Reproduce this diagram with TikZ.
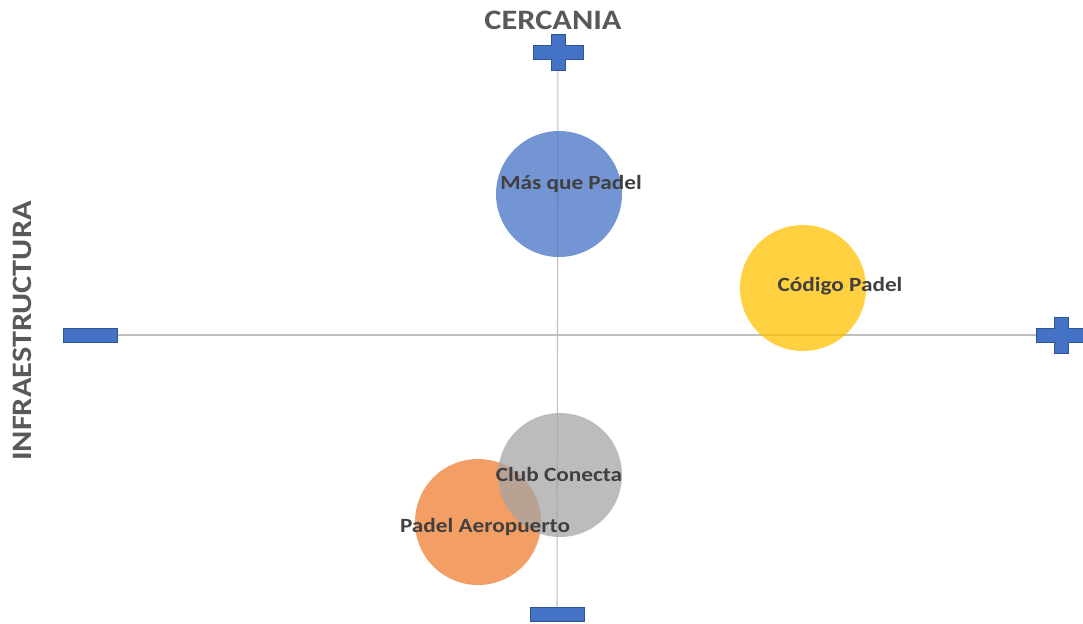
\documentclass[tikz,border=0pt]{standalone}
\usepackage{fontspec}
\setmainfont{Carlito}[FakeStretch=1.15]
\usepackage{xcolor,tikz}

\definecolor{mblue}{HTML}{4472C4}
\definecolor{mborder}{HTML}{2F5597}
\definecolor{sorange}{HTML}{ED7D31}
\definecolor{sgray}{HTML}{A5A5A5}
\definecolor{syellow}{HTML}{FFC000}
\definecolor{axisgray}{HTML}{BFBFBF}
\definecolor{titlegray}{HTML}{595959}
\definecolor{labelgray}{HTML}{404040}

\tikzset{
  bubble/.style={circle,inner sep=0pt,minimum size=2.52cm,fill opacity=.75},
  marker/.style={fill=mblue,draw=mborder,line width=.4pt},
  axisline/.style={draw=axisgray,line width=.6pt},
  bubblelabel/.style={text=labelgray,font=\fontsize{11.5}{13}\selectfont\bfseries,inner sep=0pt},
  axistitle/.style={text=titlegray,font=\fontsize{16}{18}\selectfont\bfseries,inner sep=0pt}
}
\newcommand{\plusmark}[1]{%
  \begin{scope}[shift={(#1)}]
    \filldraw[marker] (-25,-7) -- (-7,-7) -- (-7,-18) -- (7,-18) -- (7,-7) -- (25,-7)
      -- (25,7) -- (7,7) -- (7,18) -- (-7,18) -- (-7,7) -- (-25,7) -- cycle;
  \end{scope}}
\newcommand{\minusmark}[1]{%
  \begin{scope}[shift={(#1)}]
    \filldraw[marker] (-27,-7) rectangle (27,7);
  \end{scope}}

\begin{document}
\begin{tikzpicture}[x=.02cm,y=-.02cm]
\useasboundingbox (0,0) rectangle (1083,623);
% axis ends
\coordinate (ytop) at (558,52);
\coordinate (ybot) at (557,614);
\coordinate (xleft) at (90,335);
\coordinate (xright) at (1061,335);
\draw[axisline] (ytop) -- (ybot);
\draw[axisline] (xleft) -- (xright);
\plusmark{ytop}
\minusmark{ybot}
\minusmark{xleft}
\plusmark{xright}
% axis titles
\node[axistitle] (cercania) at (553,20) {CERCANIA};
\node[axistitle,rotate=90] (infra) at (22,331) {INFRAESTRUCTURA};
% bubbles
\node[bubble,fill=mblue] (masque) at (559,194) {};
\node[bubble,fill=sorange] (aeropuerto) at (478,522) {};
\node[bubble,fill=sgray,minimum size=2.48cm] (conecta) at (560,475) {};
\node[bubble,fill=syellow] (codigo) at (803,288) {};
% labels
\node[bubblelabel] (lmasque) at (571,184) {Más que Padel};
\node[bubblelabel] (lcodigo) at (840,286) {Código Padel};
\node[bubblelabel] (lconecta) at (559,474) {Club Conecta};
\node[bubblelabel] (laeropuerto) at (485,527) {Padel Aeropuerto};
\end{tikzpicture}
\end{document}
